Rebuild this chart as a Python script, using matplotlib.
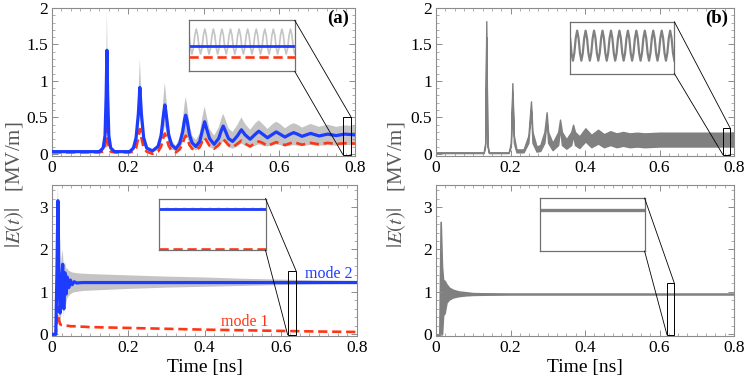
import matplotlib
matplotlib.use("Agg")
import matplotlib.pyplot as plt
from matplotlib.patches import Rectangle
from matplotlib.ticker import MultipleLocator

plt.rcParams["font.family"] = ["Liberation Serif", "DejaVu Serif"]
plt.rcParams["mathtext.fontset"] = "stix"

BLUE = "#1e3cff"
RED = "#ff3614"
LIGHT_GREY = "#c4c4c4"
DARK_GREY = "#808080"
FRAME = "#8c8c8c"

# ---- panel (a), top: two-mode excitation ----
t_a_top = [0.000, 0.125, 0.135, 0.140, 0.143, 0.145, 0.147, 0.150, 0.155, 0.165,
           0.205, 0.215, 0.222, 0.228, 0.232, 0.236, 0.242, 0.250, 0.265, 0.280,
           0.288, 0.294, 0.298, 0.302, 0.308, 0.316, 0.327, 0.337, 0.345, 0.350,
           0.353, 0.357, 0.363, 0.370, 0.380, 0.390, 0.397, 0.403, 0.409, 0.416,
           0.428, 0.440, 0.447, 0.452, 0.458, 0.466, 0.477, 0.490, 0.500, 0.510,
           0.523, 0.537, 0.546, 0.556, 0.569, 0.583, 0.592, 0.602, 0.615, 0.629,
           0.638, 0.648, 0.660, 0.683, 0.705, 0.728, 0.750, 0.773, 0.800]
mode2_a_top = [0.03, 0.03, 0.08, 0.25, 0.80, 1.42, 0.80, 0.25, 0.08, 0.03,
               0.03, 0.08, 0.22, 0.55, 0.91, 0.55, 0.22, 0.08, 0.04, 0.10,
               0.25, 0.52, 0.67, 0.52, 0.26, 0.12, 0.07, 0.14, 0.30, 0.47,
               0.53, 0.45, 0.26, 0.15, 0.10, 0.17, 0.32, 0.44, 0.33, 0.21,
               0.13, 0.21, 0.32, 0.38, 0.31, 0.21, 0.17, 0.25, 0.33, 0.26,
               0.20, 0.27, 0.31, 0.27, 0.22, 0.27, 0.30, 0.27, 0.23, 0.27,
               0.29, 0.27, 0.24, 0.28, 0.245, 0.27, 0.25, 0.27, 0.26]
mode1_a_top = [0.02, 0.02, 0.03, 0.08, 0.22, 0.35, 0.22, 0.08, 0.03, 0.02,
               0.02, 0.03, 0.08, 0.22, 0.34, 0.22, 0.08, 0.03, 0.00, 0.03,
               0.10, 0.22, 0.28, 0.22, 0.11, 0.04, 0.02, 0.06, 0.14, 0.22,
               0.25, 0.21, 0.12, 0.07, 0.05, 0.09, 0.17, 0.22, 0.17, 0.11,
               0.07, 0.12, 0.17, 0.20, 0.17, 0.12, 0.09, 0.14, 0.18, 0.14,
               0.10, 0.15, 0.17, 0.15, 0.11, 0.14, 0.16, 0.14, 0.12, 0.145,
               0.16, 0.145, 0.125, 0.15, 0.13, 0.15, 0.135, 0.145, 0.14]
total_hi_a_top = [0.03, 0.03, 0.10, 0.35, 1.10, 1.97, 1.10, 0.35, 0.10, 0.03,
                  0.03, 0.10, 0.30, 0.78, 1.30, 0.78, 0.30, 0.10, 0.05, 0.14,
                  0.36, 0.75, 0.98, 0.75, 0.38, 0.18, 0.11, 0.22, 0.45, 0.68,
                  0.78, 0.66, 0.40, 0.25, 0.19, 0.28, 0.50, 0.65, 0.50, 0.34,
                  0.25, 0.36, 0.48, 0.55, 0.47, 0.35, 0.30, 0.40, 0.50, 0.41,
                  0.33, 0.42, 0.46, 0.41, 0.34, 0.41, 0.44, 0.41, 0.35, 0.40,
                  0.42, 0.40, 0.36, 0.41, 0.37, 0.40, 0.37, 0.39, 0.38]
total_lo_a_top = [0.01, 0.01, 0.04, 0.15, 0.50, 1.00, 0.50, 0.15, 0.04, 0.01,
                  0.01, 0.04, 0.12, 0.33, 0.55, 0.33, 0.12, 0.04, 0.02, 0.05,
                  0.14, 0.30, 0.38, 0.30, 0.14, 0.06, 0.03, 0.06, 0.15, 0.24,
                  0.27, 0.23, 0.13, 0.07, 0.05, 0.07, 0.15, 0.21, 0.15, 0.09,
                  0.06, 0.09, 0.14, 0.17, 0.14, 0.09, 0.07, 0.10, 0.14, 0.11,
                  0.09, 0.11, 0.13, 0.11, 0.10, 0.12, 0.13, 0.12, 0.10, 0.11,
                  0.12, 0.11, 0.11, 0.12, 0.11, 0.12, 0.11, 0.12, 0.12]

# ---- panel (a), bottom ----
t_a_bot = [0.000, 0.010, 0.013, 0.0155, 0.018, 0.021, 0.025, 0.028, 0.031, 0.034,
           0.037, 0.040, 0.044, 0.048, 0.053, 0.058, 0.065, 0.080, 0.100, 0.200,
           0.300, 0.400, 0.500, 0.600, 0.700, 0.800]
mode2_a_bot = [0.0, 0.0, 1.50, 3.15, 1.60, 0.50, 1.00, 1.65, 0.60, 1.45,
               0.95, 1.35, 1.10, 1.28, 1.17, 1.24, 1.21, 1.22, 1.22, 1.22,
               1.22, 1.22, 1.22, 1.22, 1.22, 1.22]
mode1_a_bot = [0.0, 0.0, 0.40, 0.65, 0.35, 0.24, 0.22, 0.22, 0.21, 0.21,
               0.20, 0.20, 0.20, 0.19, 0.19, 0.19, 0.18, 0.18, 0.17, 0.15,
               0.13, 0.11, 0.095, 0.08, 0.065, 0.055]
total_hi_a_bot = [0.0, 0.0, 2.20, 3.55, 2.40, 1.40, 1.80, 2.00, 1.60, 1.70,
                  1.55, 1.55, 1.50, 1.48, 1.46, 1.45, 1.44, 1.43, 1.42, 1.39,
                  1.36, 1.34, 1.31, 1.29, 1.27, 1.26]
total_lo_a_bot = [0.0, 0.0, 0.80, 1.60, 0.60, 0.20, 0.50, 0.90, 0.40, 0.80,
                  0.70, 0.85, 0.90, 0.94, 0.97, 0.99, 1.00, 1.02, 1.03, 1.07,
                  1.10, 1.12, 1.14, 1.16, 1.18, 1.19]

# ---- panel (b), top: single-mode field ----
t_b_top = [0.000, 0.128, 0.132, 0.135, 0.138, 0.142, 0.195, 0.201, 0.205, 0.209,
           0.216, 0.235, 0.248, 0.255, 0.259, 0.270, 0.280, 0.291, 0.297, 0.301,
           0.313, 0.328, 0.333, 0.338, 0.350, 0.363, 0.368, 0.373, 0.385, 0.401,
           0.417, 0.435, 0.451, 0.468, 0.485, 0.502, 0.520, 0.540, 0.560, 0.600,
           0.800]
field_hi_b_top = [0.02, 0.02, 0.15, 1.82, 0.15, 0.02, 0.02, 0.15, 0.97, 0.25,
                  0.06, 0.06, 0.25, 0.72, 0.30, 0.10, 0.12, 0.30, 0.57, 0.30,
                  0.15, 0.30, 0.47, 0.30, 0.20, 0.30, 0.40, 0.30, 0.24, 0.35,
                  0.26, 0.33, 0.27, 0.31, 0.28, 0.30, 0.28, 0.29, 0.28, 0.29,
                  0.29]
field_lo_b_top = [0.01, 0.01, 0.10, 1.60, 0.10, 0.01, 0.01, 0.10, 0.85, 0.15,
                  0.02, 0.02, 0.15, 0.60, 0.15, 0.03, 0.04, 0.15, 0.45, 0.15,
                  0.05, 0.12, 0.35, 0.12, 0.07, 0.12, 0.25, 0.12, 0.08, 0.17,
                  0.09, 0.14, 0.09, 0.12, 0.09, 0.11, 0.09, 0.10, 0.09, 0.10,
                  0.10]

# ---- panel (b), bottom ----
t_b_bot = [0.000, 0.009, 0.0125, 0.016, 0.019, 0.023, 0.028, 0.035, 0.045, 0.060,
           0.080, 0.100, 0.130, 0.200, 0.800]
field_hi_b_bot = [0.0, 0.0, 2.65, 1.60, 1.28, 1.26, 1.18, 1.10, 1.05, 1.01,
                  0.99, 0.97, 0.965, 0.96, 0.96]
field_lo_b_bot = [0.0, 0.0, 0.00, 0.00, 0.45, 0.50, 0.75, 0.82, 0.87, 0.90,
                  0.92, 0.93, 0.935, 0.94, 0.94]

# ---- magnified insets (values in inset units, 0 = bottom, 1 = top) ----
inset_a_top_total = [0.83, 0.71, 0.46, 0.34, 0.46, 0.71,
                     0.83, 0.71, 0.46, 0.34, 0.46, 0.71,
                     0.83, 0.71, 0.46, 0.34, 0.46, 0.71,
                     0.83, 0.71, 0.46, 0.34, 0.46, 0.71,
                     0.83, 0.71, 0.46, 0.34, 0.46, 0.71,
                     0.83, 0.71, 0.46, 0.34, 0.46, 0.71,
                     0.83, 0.71, 0.46, 0.34, 0.46, 0.71,
                     0.83, 0.71, 0.46, 0.34, 0.46, 0.71,
                     0.83, 0.71, 0.46, 0.34, 0.46, 0.71,
                     0.83, 0.71, 0.46, 0.34, 0.46, 0.71,
                     0.83, 0.71, 0.46, 0.34, 0.46, 0.71,
                     0.83, 0.71, 0.46, 0.34, 0.46, 0.71,
                     0.83, 0.71, 0.46, 0.34]
inset_a_top_mode2 = 0.50
inset_a_top_mode1 = 0.28
inset_b_top_field = [0.83, 0.685, 0.395, 0.25, 0.395, 0.685,
                     0.83, 0.685, 0.395, 0.25, 0.395, 0.685,
                     0.83, 0.685, 0.395, 0.25, 0.395, 0.685,
                     0.83, 0.685, 0.395, 0.25, 0.395, 0.685,
                     0.83, 0.685, 0.395, 0.25, 0.395, 0.685,
                     0.83, 0.685, 0.395, 0.25, 0.395, 0.685,
                     0.83, 0.685, 0.395, 0.25, 0.395, 0.685,
                     0.83, 0.685, 0.395, 0.25, 0.395, 0.685,
                     0.83, 0.685, 0.395, 0.25, 0.395, 0.685,
                     0.83, 0.685, 0.395, 0.25, 0.395, 0.685,
                     0.83, 0.685, 0.395, 0.25, 0.395, 0.685,
                     0.83, 0.685, 0.395, 0.25, 0.395, 0.685,
                     0.83, 0.685, 0.395, 0.25]
inset_a_bot_total = [0.812, 0.788, 0.812, 0.788, 0.812, 0.788, 0.812, 0.788,
                     0.812, 0.788, 0.812, 0.788, 0.812, 0.788, 0.812, 0.788,
                     0.812, 0.788, 0.812, 0.788, 0.812, 0.788, 0.812, 0.788,
                     0.812, 0.788]
inset_a_bot_mode2 = 0.80
inset_a_bot_mode1 = 0.03
inset_b_bot_field = 0.78

# ---- layout ----
fig = plt.figure(figsize=(7.47, 3.80), dpi=100)
W, H = 747.0, 380.0


def px_axes(x0, y0, x1, y1):
    return fig.add_axes([x0 / W, 1 - y1 / H, (x1 - x0) / W, (y1 - y0) / H])


def style_axes(ax, ylim, ymajor, yminor):
    ax.set_xlim(0, 0.8)
    ax.set_ylim(*ylim)
    ax.xaxis.set_major_locator(MultipleLocator(0.2))
    ax.xaxis.set_minor_locator(MultipleLocator(0.025))
    ax.yaxis.set_major_locator(MultipleLocator(ymajor))
    ax.yaxis.set_minor_locator(MultipleLocator(yminor))
    ax.tick_params(which="both", direction="in", top=True, right=True,
                   color=FRAME, labelsize=12.5, pad=3)
    ax.tick_params(which="major", length=4, width=0.7)
    ax.tick_params(which="minor", length=2, width=0.5)
    for s in ax.spines.values():
        s.set_color(FRAME)
        s.set_linewidth(0.8)
    ax.xaxis.set_major_formatter(plt.FuncFormatter(lambda v, p: f"{v:g}"))
    ax.yaxis.set_major_formatter(plt.FuncFormatter(lambda v, p: f"{v:g}"))


def zoom_box(ax, region, inset_rect, lw=0.7):
    # region = (x0, x1, y0, y1) magnified, inset_rect = (x0, x1, y0, y1) in data coords
    rx0, rx1, ry0, ry1 = region
    ix0, ix1, iy0, iy1 = inset_rect
    ax.add_patch(Rectangle((rx0, ry0), rx1 - rx0, ry1 - ry0, fill=False,
                           edgecolor="black", linewidth=lw, zorder=6, clip_on=False))
    ax.plot([ix1, rx1], [iy1, ry1], color="black", lw=0.6, zorder=6, clip_on=False)
    ax.plot([ix1, rx0], [iy0, ry0], color="black", lw=0.6, zorder=6, clip_on=False)
    ins = ax.inset_axes([ix0, iy0, ix1 - ix0, iy1 - iy0], transform=ax.transData)
    ins.set_xticks([])
    ins.set_yticks([])
    ins.set_ylim(0, 1)
    ins.set_facecolor("white")
    for s in ins.spines.values():
        s.set_color("#707070")
        s.set_linewidth(0.9)
    return ins


ax1 = px_axes(52, 8, 355, 156)
ax2 = px_axes(52, 185, 357, 336)
ax3 = px_axes(436, 8, 734, 156)
ax4 = px_axes(436, 185, 734, 336)

style_axes(ax1, (-0.03, 2.0), 0.5, 0.1)
style_axes(ax2, (-0.04, 3.52), 1, 0.2)
style_axes(ax3, (-0.03, 2.0), 0.5, 0.1)
style_axes(ax4, (-0.04, 3.52), 1, 0.2)

# panel (a) top
ax1.fill_between(t_a_top, total_lo_a_top, total_hi_a_top, facecolor=LIGHT_GREY,
                 edgecolor="none", zorder=1)
ax1.plot(t_a_top, mode1_a_top, color=RED, lw=1.9, dashes=(3.5, 1.8), zorder=2)
ax1.plot(t_a_top, mode2_a_top, color=BLUE, lw=2.3, zorder=3)
ax1.text(0.785, 1.97, "(a)", ha="right", va="top", fontsize=13.5, fontweight="bold")
ins = zoom_box(ax1, (0.768, 0.789, -0.01, 0.51), (0.362, 0.641, 1.13, 1.83))
ins.plot(range(len(inset_a_top_total)), inset_a_top_total, color=LIGHT_GREY, lw=1.2)
ins.axhline(inset_a_top_mode2, color=BLUE, lw=2.0)
ins.axhline(inset_a_top_mode1, color=RED, lw=1.9, dashes=(3.5, 1.8))
ins.set_xlim(1, len(inset_a_top_total) - 1)

# panel (a) bottom
ax2.fill_between(t_a_bot, total_lo_a_bot, total_hi_a_bot, facecolor=LIGHT_GREY,
                 edgecolor="none", zorder=1)
ax2.plot(t_a_bot, mode1_a_bot, color=RED, lw=1.9, dashes=(3.5, 1.8), zorder=2)
ax2.plot(t_a_bot, mode2_a_bot, color=BLUE, lw=2.3, zorder=3)
ax2.text(0.725, 1.42, "mode 2", color=BLUE, ha="center", va="center", fontsize=11.5)
ax2.text(0.506, 0.29, "mode 1", color=RED, ha="center", va="center", fontsize=11.5)
ins = zoom_box(ax2, (0.618, 0.640, -0.01, 1.5), (0.28, 0.56, 1.98, 3.2))
ins.plot(range(len(inset_a_bot_total)), inset_a_bot_total, color=LIGHT_GREY, lw=1.2)
ins.axhline(inset_a_bot_mode2, color=BLUE, lw=2.0)
ins.axhline(inset_a_bot_mode1, color=RED, lw=1.9, dashes=(3.5, 1.8))
ins.set_xlim(0, len(inset_a_bot_total) - 1)

# panel (b) top
ax3.fill_between(t_b_top, field_lo_b_top, field_hi_b_top, facecolor=DARK_GREY,
                 edgecolor=DARK_GREY, lw=1.0, zorder=1)
ax3.text(0.785, 1.97, "(b)", ha="right", va="top", fontsize=13.5, fontweight="bold")
ins = zoom_box(ax3, (0.770, 0.790, -0.01, 0.35), (0.36, 0.64, 1.10, 1.81))
ins.plot(range(len(inset_b_top_field)), inset_b_top_field, color=DARK_GREY, lw=1.6)
ins.set_xlim(1, len(inset_b_top_field) - 1)

# panel (b) bottom
ax4.fill_between(t_b_bot, field_lo_b_bot, field_hi_b_bot, facecolor=DARK_GREY,
                 edgecolor=DARK_GREY, lw=1.2, zorder=1)
ins = zoom_box(ax4, (0.620, 0.640, -0.01, 1.2), (0.28, 0.56, 1.96, 3.21))
ins.axhline(inset_b_bot_field, color=DARK_GREY, lw=2.4)

for ax in (ax2, ax4):
    ax.set_xlabel("Time [ns]", fontsize=14, labelpad=2)

ylabel = r"$|E(t)|$   [MV/m]"
fig.text(15 / W, 1 - 185 / H, ylabel, rotation=90, ha="center", va="center",
         fontsize=15, color="#5a5a5a")
fig.text(397 / W, 1 - 185 / H, ylabel, rotation=90, ha="center", va="center",
         fontsize=15, color="#5a5a5a")

fig.savefig("out.png", dpi=100)
